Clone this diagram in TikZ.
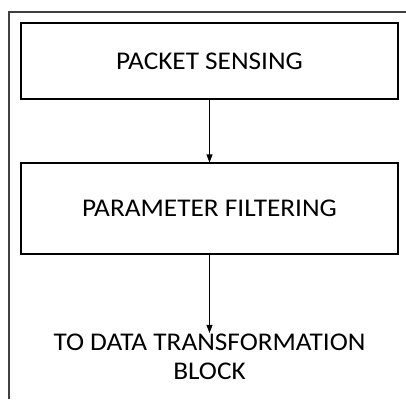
\documentclass[tikz,border=0pt]{standalone}
\usepackage{fontspec}
\setmainfont{Carlito}[FakeStretch=1.07]
\usetikzlibrary{arrows.meta}
\tikzset{blk/.style={draw,line width=1.1pt,minimum width=377pt,inner sep=0pt,font=\fontsize{25.5}{29}\selectfont}}
\begin{document}
\begin{tikzpicture}[x=1pt,y=-1pt,>={Triangle[width=6pt,length=8pt]}]
	\useasboundingbox (0,0) rectangle (406,399);
	\draw[line width=1.4pt,black!75] (9,399) -- (9,12) -- (406,12);
	\node[blk,minimum height=76pt] (ps) at (209.5,61) {PACKET SENSING};
	\node[blk,minimum height=91pt] (pf) at (209.5,208.5) {PARAMETER FILTERING};
	\node[align=center,inner sep=1pt,font=\fontsize{25.5}{29}\selectfont] (tdt) at (209.5,357) {TO DATA TRANSFORMATION\\BLOCK};
	\draw[->,line width=0.6pt] (ps) -- (pf);
	\draw[->,line width=0.6pt] (pf) -- (tdt);
\end{tikzpicture}
\end{document}
